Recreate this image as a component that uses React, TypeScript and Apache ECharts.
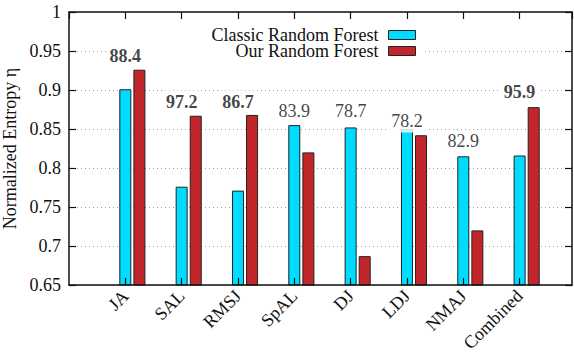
import React, { useEffect, useRef } from "react";
import * as echarts from "echarts";

const categories = ["JA", "SAL", "RMSJ", "SpAL", "DJ", "LDJ", "NMAJ", "Combined"];
const classicRF = [0.901, 0.776, 0.771, 0.855, 0.852, 0.850, 0.815, 0.816];
const ourRF = [0.926, 0.867, 0.868, 0.820, 0.687, 0.842, 0.720, 0.878];
const annotationTexts = ["88.4", "97.2", "86.7", "83.9", "78.7", "78.2", "82.9", "95.9"];
const annotationBold = [true, true, true, false, false, false, false, true];
const annotationHeights = [0.948, 0.889, 0.889, 0.8765, 0.8765, 0.8636, 0.838, 0.901];
const yTicks = { min: 0.65, max: 1, interval: 0.05 };

const FONT = "Liberation Serif";
const FS = 18;
const CYAN = "#00dcff";
const RED = "#c3262a";
const RED_OFFSET = 0.25;

export default function App() {
  const ref = useRef<HTMLDivElement>(null);
  useEffect(() => {
    if (!ref.current) return;
    const chart = echarts.init(ref.current, undefined, { renderer: "svg" });
    const grid = { left: 69, right: 2, top: 12, bottom: 67, containLabel: false, outerBoundsMode: "none" };
    const axisLine = { show: true, onZero: false, lineStyle: { color: "#111", width: 1.5 } };
    const axisTick = { show: true, inside: true, length: 7, lineStyle: { color: "#111", width: 1.2 } };
    const xCommon = {
      type: "value" as const,
      min: -1,
      max: 7.93,
      interval: 1,
      splitLine: { show: false },
      axisLine,
      axisTick,
      z: 3,
    };
    const legendCommon = {
      orient: "vertical",
      align: "right",
      right: 158,
      itemWidth: 27,
      itemHeight: 9,
      icon: "rect",
      itemStyle: { borderColor: "#222", borderWidth: 1 },
      textStyle: { fontFamily: FONT, fontSize: FS, lineHeight: 16, color: "#111", padding: [0, 5, 0, 0] },
      padding: 0,
    };
    const option = {
      animation: false,
      backgroundColor: "#fff",
      textStyle: { fontFamily: FONT },
      grid,
      legend: [
        { ...legendCommon, data: ["Classic Random Forest"], top: 26 },
        { ...legendCommon, data: ["Our Random Forest"], top: 42 },
      ],
      graphic: [
        {
          type: "rect",
          left: 144,
          top: 26,
          shape: { width: 279, height: 33 },
          style: { fill: "#fff" },
          z: 1,
          silent: true,
        },
      ],
      xAxis: [
        {
          ...xCommon,
          position: "bottom",
          axisLabel: {
            show: true,
            rotate: 45,
            fontFamily: FONT,
            fontSize: FS,
            color: "#111",
            margin: 8,
            showMaxLabel: false,
            showMinLabel: false,
            formatter: (v: number) => (Number.isInteger(v) && v >= 0 && v < categories.length ? categories[v] : ""),
          },
        },
        {
          ...xCommon,
          position: "top",
          axisLabel: { show: false },
        },
      ],
      yAxis: [
        {
          type: "value",
          min: yTicks.min,
          max: yTicks.max,
          interval: yTicks.interval,
          name: "Normalized Entropy η",
          nameLocation: "middle",
          nameGap: 44,
          nameTextStyle: { fontFamily: FONT, fontSize: 18, color: "#111" },
          axisLine,
          axisTick,
          axisLabel: { fontFamily: FONT, fontSize: FS, color: "#111", margin: 8 },
          splitLine: { show: true, lineStyle: { color: "#a0a0a0", type: [1, 3], width: 1 } },
        },
        {
          type: "value",
          position: "right",
          min: yTicks.min,
          max: yTicks.max,
          interval: yTicks.interval,
          axisLine,
          axisTick,
          axisLabel: { show: false },
          splitLine: { show: false },
        },
      ],
      series: [
        {
          name: "Classic Random Forest",
          type: "bar",
          xAxisIndex: 0,
          yAxisIndex: 0,
          barWidth: 12,
          barGap: "-100%",
          itemStyle: { color: CYAN, borderColor: "#222", borderWidth: 1 },
          data: classicRF.map((v, i) => [i, v]),
          z: 2,
        },
        {
          name: "Our Random Forest",
          type: "bar",
          xAxisIndex: 0,
          yAxisIndex: 0,
          barWidth: 12,
          barGap: "-100%",
          itemStyle: { color: RED, borderColor: "#222", borderWidth: 1 },
          data: ourRF.map((v, i) => [i + RED_OFFSET, v]),
          z: 2,
        },
        {
          name: "annotations",
          type: "scatter",
          xAxisIndex: 0,
          yAxisIndex: 0,
          symbolSize: 0,
          silent: true,
          z: 4,
          data: annotationHeights.map((h, i) => ({
            value: [i, h],
            label: {
              show: true,
              position: "inside",
              offset: [0, 3],
              formatter: annotationTexts[i],
              fontFamily: FONT,
              fontSize: FS,
              fontWeight: annotationBold[i] ? "bold" : "normal",
              color: "#111",
              backgroundColor: "#fff",
              padding: [2, 3],
            },
          })),
        },
      ],
    };
    chart.setOption(option as any);
    return () => chart.dispose();
  }, []);
  return (
    <div
      ref={ref}
      style={{ position: "fixed", left: 0, top: 0, width: 574, height: 352, fontFamily: FONT }}
    />
  );
}
